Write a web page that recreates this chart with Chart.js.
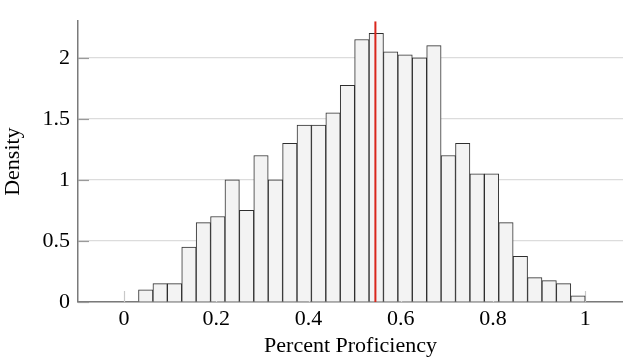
<!DOCTYPE html>
<html>
<head>
<meta charset="utf-8">
<script src="https://cdn.jsdelivr.net/npm/chart.js@4.4.0/dist/chart.umd.min.js"></script>
<style>
  html, body { margin: 0; padding: 0; background: #fff; }
  #c { display: block; }
</style>
</head>
<body>
<canvas id="c" width="623" height="359"></canvas>
<script>
// ---- data ----
const binCount = 32;
const binStart = 0;
const binEnd = 1;
const densities = [0, 0.1, 0.15, 0.15, 0.45, 0.65, 0.7, 1.0, 0.75, 1.2,
                   1.0, 1.3, 1.45, 1.45, 1.55, 1.775, 2.15, 2.2, 2.05, 2.025,
                   2.0, 2.1, 1.2, 1.3, 1.05, 1.05, 0.65, 0.375, 0.2, 0.175,
                   0.15, 0.05];
const meanValue = 0.545;
const xTicks = [0, 0.2, 0.4, 0.6, 0.8, 1];
const xTickLabels = ['0', '0.2', '0.4', '0.6', '0.8', '1'];
const yTicks = [0, 0.5, 1, 1.5, 2];
const yTickLabels = ['0', '0.5', '1', '1.5', '2'];
const xTitle = 'Percent Proficiency';
const yTitle = 'Density';

const binWidth = (binEnd - binStart) / binCount;
const barData = densities.map((v, i) => ({ x: binStart + (i + 0.5) * binWidth, y: v }));

const FONT = { family: '"Liberation Serif", "Times New Roman", serif', size: 22 };

const innerTicks = {
  id: 'innerTicks',
  beforeDatasetsDraw(chart) {
    const { ctx, chartArea, scales } = chart;
    ctx.save();
    ctx.strokeStyle = '#c8c8c8';
    ctx.lineWidth = 1.2;
    xTicks.forEach(v => {
      const px = Math.round(scales.x.getPixelForValue(v)) + 0.5;
      ctx.beginPath();
      ctx.moveTo(px, chartArea.bottom);
      ctx.lineTo(px, chartArea.bottom - 11);
      ctx.stroke();
    });
    ctx.restore();
  },
  afterDatasetsDraw(chart) {
    const { ctx, chartArea, scales } = chart;
    ctx.save();
    ctx.strokeStyle = '#9a9a9a';
    ctx.lineWidth = 1.2;
    yTicks.forEach(v => {
      const py = Math.round(scales.y.getPixelForValue(v)) + 0.5;
      ctx.beginPath();
      ctx.moveTo(chartArea.left, py);
      ctx.lineTo(chartArea.left + 11, py);
      ctx.stroke();
    });
    ctx.restore();
  }
};

new Chart(document.getElementById('c'), {
  type: 'bar',
  data: {
    datasets: [
      {
        type: 'line',
        data: [{ x: meanValue, y: 0 }, { x: meanValue, y: 2.3 }],
        borderColor: '#d9261c',
        borderWidth: 2,
        pointRadius: 0,
        order: 0
      },
      {
        type: 'bar',
        data: barData,
        backgroundColor: '#f3f3f3',
        borderColor: '#2e2e2e',
        borderWidth: 1,
        barPercentage: 1,
        categoryPercentage: 1,
        order: 1
      }
    ]
  },
  options: {
    responsive: false,
    animation: false,
    events: [],
    layout: { padding: { top: 9, right: 0, left: 0, bottom: 0 } },
    plugins: { legend: { display: false }, tooltip: { enabled: false } },
    scales: {
      x: {
        type: 'linear',
        min: -0.1,
        max: 1.082,
        offset: false,
        afterBuildTicks: s => { s.ticks = xTicks.map(v => ({ value: v })); },
        afterFit: s => { s.height = 57; },
        grid: { display: false, drawTicks: false },
        border: { display: true, color: '#7a7a7a', width: 1.5 },
        ticks: {
          color: '#000',
          font: FONT,
          padding: 4,
          maxRotation: 0,
          autoSkip: false,
          callback: (v, i) => xTickLabels[i]
        },
        title: { display: true, text: xTitle, color: '#000', font: FONT, padding: { top: 0, bottom: 0 } }
      },
      y: {
        min: 0,
        max: 2.3,
        afterBuildTicks: s => { s.ticks = yTicks.map(v => ({ value: v })); },
        afterFit: s => { s.width = 78; },
        grid: { display: true, drawTicks: false, color: '#dcdcdc', lineWidth: 1.2 },
        border: { display: true, color: '#7a7a7a', width: 1.5 },
        ticks: {
          color: '#000',
          font: FONT,
          padding: 8,
          callback: (v, i) => yTickLabels[i]
        },
        title: { display: true, text: yTitle, color: '#000', font: FONT, padding: { top: 0, bottom: 0 } }
      }
    }
  },
  plugins: [innerTicks]
});
</script>
</body>
</html>
